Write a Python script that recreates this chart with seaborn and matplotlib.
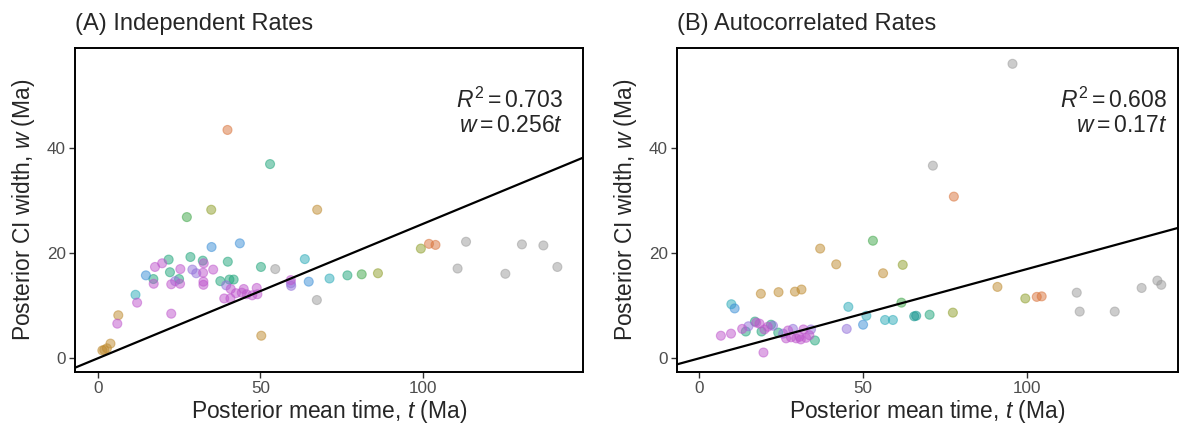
import numpy as np
import pandas as pd
import seaborn as sns
import matplotlib
matplotlib.use("Agg")
from matplotlib import pyplot as plt

# (A) independent rates
a_time = [1.4, 2.0, 2.8, 3.9, 6.3, 50.3, 67.5,
          39.9, 101.9, 103.9,
          34.9, 86.2, 99.4,
          27.4, 81.2,
          53.0, 21.8, 28.5, 32.3, 40.0, 50.2, 17.1, 22.2, 25.0, 37.7, 40.5, 41.8, 76.8,
          11.6, 63.7, 71.3,
          35.0, 43.7, 14.8, 64.9,
          29.1, 23.8, 39.5, 59.4, 30.3, 59.5,
          17.6, 19.8, 25.4, 32.6, 35.5, 32.4, 17.2, 22.6, 25.3, 32.5, 32.5, 40.9, 38.9,
          40.8, 44.9, 44.3, 45.8, 48.9, 49.1, 47.5, 12.1, 22.6, 6.0, 59.4, 42.5,
          54.6, 67.4, 113.3, 110.7, 125.4, 130.5, 137.1, 141.4]
a_width = [1.5, 1.6, 1.9, 2.8, 8.2, 4.3, 28.3,
           43.5, 21.8, 21.6,
           28.3, 16.2, 20.9,
           26.9, 16.0,
           37.0, 18.8, 19.3, 18.6, 18.4, 17.4, 15.1, 16.4, 15.1, 14.7, 15.0, 15.0, 15.8,
           12.1, 18.9, 15.2,
           21.2, 21.9, 15.8, 14.6,
           16.9, 14.7, 13.9, 14.3, 16.2, 13.8,
           17.4, 18.1, 17.0, 18.1, 16.9, 16.3, 14.2, 14.1, 14.2, 14.6, 14.0, 13.2, 11.4,
           11.4, 13.2, 12.5, 12.2, 13.4, 12.2, 12.0, 10.6, 8.5, 6.6, 14.9, 12.4,
           17.0, 11.1, 22.2, 17.1, 16.1, 21.7, 21.5, 17.4]
a_group = (["tan"] * 7 + ["orange"] * 3 + ["olive"] * 3 + ["green"] * 2
           + ["tealgreen"] * 13 + ["cyan"] * 3 + ["blue"] * 4 + ["purple"] * 6
           + ["pink"] * 25 + ["grey"] * 8)

# (B) autocorrelated rates
b_time = [18.8, 24.2, 29.2, 31.2, 36.9, 41.8, 56.1, 91.0,
          77.7, 103.0, 104.5,
          62.1, 77.4, 99.5,
          53.0, 61.7,
          70.3, 14.2, 17.0, 19.0, 21.9, 24.1, 35.3,
          65.6, 66.2,
          9.8, 45.5, 51.0, 56.7, 59.1,
          10.8, 50.0,
          45.0, 15.0, 25.6, 28.6, 34.1, 22.5,
          6.6, 9.7, 19.6, 13.1, 17.4, 18.4, 19.9, 20.9, 27.1, 29.6, 30.6, 31.8, 32.6,
          33.6, 28.0, 31.0, 26.5,
          95.6, 71.3, 115.2, 116.1, 126.8, 135.0, 139.8, 141.0]
b_width = [12.3, 12.6, 12.7, 13.1, 20.9, 17.9, 16.2, 13.6,
           30.8, 11.7, 11.8,
           17.8, 8.7, 11.4,
           22.4, 10.6,
           8.3, 5.1, 7.0, 5.1, 6.4, 4.9, 3.4,
           8.0, 8.1,
           10.3, 9.8, 8.1, 7.3, 7.3,
           9.5, 6.4,
           5.6, 6.1, 4.7, 5.6, 5.5, 6.2,
           4.3, 4.7, 1.1, 5.6, 6.8, 6.6, 5.5, 6.0, 5.3, 3.8, 4.1, 5.5, 3.9,
           4.4, 4.0, 3.6, 3.8,
           56.1, 36.7, 12.5, 8.9, 8.9, 13.4, 14.8, 14.0]
b_group = (["tan"] * 8 + ["orange"] * 3 + ["olive"] * 3 + ["green"] * 2
           + ["tealgreen"] * 7 + ["teal"] * 2 + ["cyan"] * 5 + ["blue"] * 2
           + ["purple"] * 6 + ["pink"] * 17 + ["grey"] * 8)

titles = ["(A) Independent Rates", "(B) Autocorrelated Rates"]
r2 = ["0.703", "0.608"]
slopes = [0.256, 0.17]
slope_txt = ["0.256", "0.17"]

palette = {"tan": "#BE8A2E", "orange": "#D9733A", "olive": "#8E9E2A",
           "green": "#3FA648", "tealgreen": "#1FA57A", "teal": "#13968F",
           "cyan": "#2AAAB8", "blue": "#3A8ED6", "purple": "#9270DA",
           "pink": "#BE55CC", "grey": "#9A9A9A"}

sns.set_style("white")
plt.rcParams["font.family"] = ["Liberation Sans", "DejaVu Sans"]
plt.rcParams["mathtext.fontset"] = "custom"
plt.rcParams["mathtext.rm"] = "Liberation Sans"
plt.rcParams["mathtext.it"] = "Liberation Sans:italic"

fig = plt.figure(figsize=(11.8, 4.33), dpi=100)
ax_a = fig.add_axes([0.0636, 0.141, 0.4305, 0.748])
ax_b = fig.add_axes([0.5737, 0.141, 0.4246, 0.748])

frames = [pd.DataFrame({"t": a_time, "w": a_width, "g": a_group}),
          pd.DataFrame({"t": b_time, "w": b_width, "g": b_group})]
xlims = [(-7.0, 149.3), (-6.8, 146.1)]
text_x = [0.961, 0.978]

for i, ax in enumerate([ax_a, ax_b]):
    df = frames[i]
    sns.scatterplot(data=df, x="t", y="w", hue="g", palette=palette, ax=ax,
                    s=42, alpha=0.5, linewidth=0.8, legend=False)
    for c in ax.collections:
        c.set_edgecolors(c.get_facecolors())
    ax.axline((0, 0), slope=slopes[i], color="black", lw=1.6)
    ax.set_xlim(*xlims[i])
    ax.set_ylim(-2.6, 59.1)
    ax.set_xticks([0, 50, 100])
    ax.set_yticks([0, 20, 40])
    ax.tick_params(axis="both", length=4.5, width=1, color="#333333",
                   labelsize=12.3, labelcolor="#4D4D4D", pad=2,
                   bottom=True, left=True)
    for sp in ax.spines.values():
        sp.set_color("black")
        sp.set_linewidth(1.4)
    ax.set_xlabel(r"Posterior mean time, $t$ (Ma)", fontsize=16.4, labelpad=1.5)
    ax.set_ylabel(r"Posterior CI width, $w$ (Ma)", fontsize=16.4, labelpad=7)
    ax.set_title(titles[i], loc="left", fontsize=17, pad=13)
    ax.text(text_x[i], 0.815, r"$R^2 = $" + r"$\mathrm{" + r2[i] + "}$",
            transform=ax.transAxes, ha="right", va="baseline", fontsize=16.5)
    ax.text(text_x[i], 0.741, r"$w = \mathrm{" + slope_txt[i] + "}t$",
            transform=ax.transAxes, ha="right", va="baseline", fontsize=16.5)

fig.savefig("out.png", dpi=100)
